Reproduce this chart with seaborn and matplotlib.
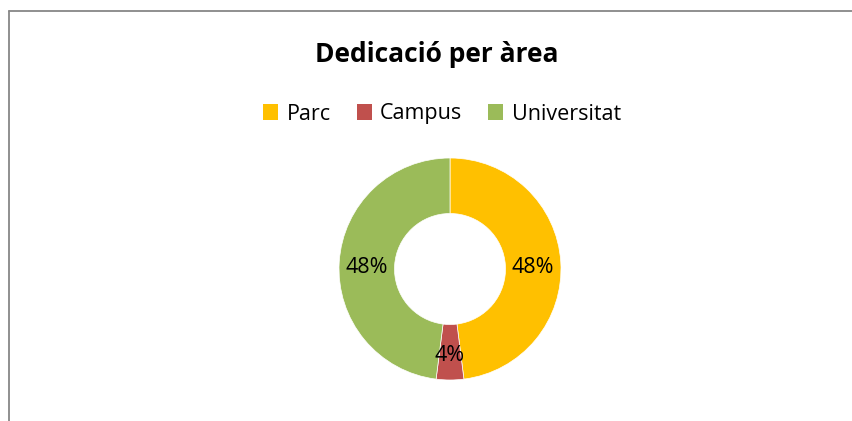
import matplotlib
matplotlib.use("Agg")
import matplotlib.pyplot as plt
from matplotlib.patches import Patch
from matplotlib.lines import Line2D
import numpy as np
import seaborn as sns

# data
areas = ["Parc", "Campus", "Universitat"]
shares = [48, 4, 48]
colors = ["#FFC000", "#C0504D", "#9BBB59"]
title = "Dedicació per àrea"

sns.set_theme(style="white")
plt.rcParams["font.family"] = ["Open Sans", "DejaVu Sans"]

W, H = 852, 421
fig = plt.figure(figsize=(W / 100, H / 100), dpi=100)

# chart frame (left and top edges visible)
fig.add_artist(Line2D([8.5 / W, 8.5 / W], [0, 1 - 10.5 / H], transform=fig.transFigure,
                      color="#878787", lw=1.3))
fig.add_artist(Line2D([8.5 / W, 1], [1 - 10.5 / H, 1 - 10.5 / H], transform=fig.transFigure,
                      color="#878787", lw=1.3))

# donut
cx, cy, r = 450, 269, 111
ax = fig.add_axes([(cx - r) / W, (H - cy - r) / H, 2 * r / W, 2 * r / H])
wedges, _ = ax.pie(shares, colors=colors, startangle=90, counterclock=False,
                   radius=1, wedgeprops=dict(width=0.5, edgecolor="white", linewidth=0.5))
ax.set_xlim(-1, 1)
ax.set_ylim(-1, 1)
ax.set_aspect("equal")
ax.axis("off")

# labels at the middle of the ring
for w, s in zip(wedges, shares):
    mid = np.deg2rad((w.theta1 + w.theta2) / 2)
    ax.text(0.75 * np.cos(mid), 0.75 * np.sin(mid) - 0.03, f"{s}%", ha="center",
            va="center", fontsize=15.5, color="black")

fig.text(437 / W, 1 - 54 / H, title, ha="center", va="center", fontsize=19,
         fontweight="bold", color="black")

handles = [Patch(facecolor=c, edgecolor="none") for c in colors]
fig.legend(handles, areas, loc="center", bbox_to_anchor=(442 / W, 1 - 114 / H), ncol=3,
           frameon=False, fontsize=15.5, handlelength=0.7, handleheight=0.7,
           handletextpad=0.4, columnspacing=1.2, labelcolor="black")

fig.savefig("out.png", dpi=100, facecolor="white")
